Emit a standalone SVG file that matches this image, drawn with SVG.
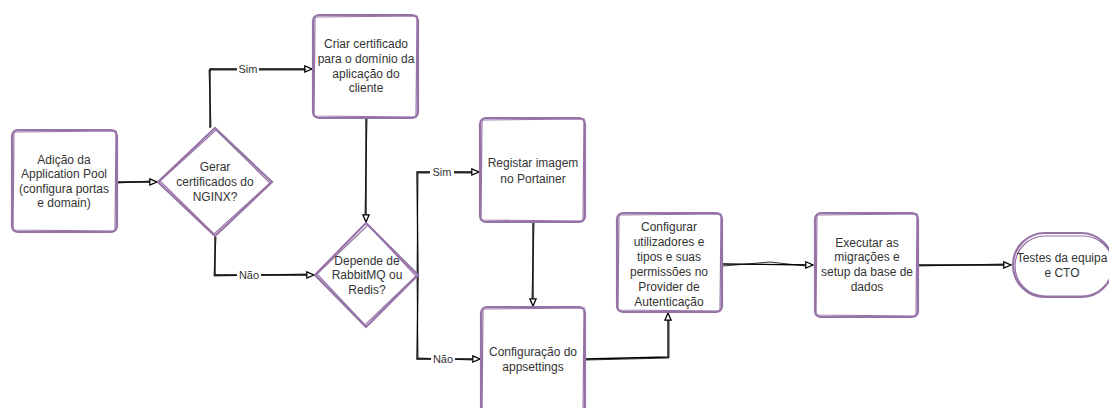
<svg xmlns="http://www.w3.org/2000/svg" width="1109" height="408" viewBox="0 0 1109 408">
<defs>
<marker id="arr" viewBox="0 0 10 10" refX="9" refY="5" markerWidth="9" markerHeight="9" markerUnits="userSpaceOnUse" orient="auto">
<path d="M1,1.5 L9,5 L1,8.5 Z" fill="#fff" stroke="#000" stroke-width="1.4"/>
</marker>
</defs>
<style>
.n{fill:#fff;stroke:#9673a6;stroke-width:2.2}
.n2{fill:none;stroke:#9673a6;stroke-width:1.2}
.t{font-family:"Liberation Sans",Arial,sans-serif;font-size:12px;fill:#333;text-anchor:middle}
.c{fill:none;stroke:#000;stroke-width:1.3}
.c2{fill:none;stroke:#000;stroke-width:0.8}
.lbl{font-family:"Liberation Sans",Arial,sans-serif;font-size:11px;fill:#333;text-anchor:middle}
.bg{fill:#fff}
</style>
<rect width="1109" height="408" fill="#fff"/>
<g id="connectors">
<path class="c" d="M117,182 L157,182" marker-end="url(#arr)"/>
<path class="c2" d="M118,183 L150,181"/>
<path class="c" d="M210,128 L210,69 L312,69" marker-end="url(#arr)"/>
<path class="c2" d="M211,127 L209,70 L306,70"/>
<rect class="bg" x="237" y="63" width="22" height="12"/>
<text class="lbl" x="248" y="73">Sim</text>
<path class="c" d="M215,236 L215,275 L314,275" marker-end="url(#arr)"/>
<path class="c2" d="M216,237 L214,276 L306,274"/>
<rect class="bg" x="237" y="269" width="24" height="12"/>
<text class="lbl" x="249" y="279">Não</text>
<path class="c" d="M366,118 L366,222" marker-end="url(#arr)"/>
<path class="c2" d="M367,119 L365,214"/>
<path class="c" d="M418,275 L417,172 L479,172" marker-end="url(#arr)"/>
<path class="c2" d="M417,276 L418,173 L472,173"/>
<path class="c" d="M418,275 L417,359 L480,359" marker-end="url(#arr)"/>
<path class="c2" d="M417,276 L418,358 L472,360"/>
<rect class="bg" x="430" y="166" width="24" height="12"/>
<text class="lbl" x="442" y="176">Sim</text>
<rect class="bg" x="431" y="353" width="24" height="12"/>
<text class="lbl" x="443" y="363">Não</text>
<path class="c" d="M533,222 L533,306" marker-end="url(#arr)"/>
<path class="c2" d="M534,223 L532,298"/>
<path class="c" d="M585,359 L668,357 L668,313" marker-end="url(#arr)"/>
<path class="c2" d="M586,360 L669,358 L669,320"/>
<path class="c" d="M722,264 L813,265" marker-end="url(#arr)"/>
<path class="c2" d="M723,266 L770,262 L806,266"/>
<path class="c" d="M918,265 L1011,265" marker-end="url(#arr)"/>
<path class="c2" d="M919,266 L1004,264"/>
</g>
<g id="n1">
<rect class="n" x="12" y="130" width="105" height="102" rx="6"/>
<path class="n2" d="M14,132 L116,131 L115,231 L13,230 Z"/>
<text class="t"><tspan x="64" y="164">Adição da</tspan><tspan x="64" y="178">Application Pool</tspan><tspan x="64" y="193">(configura portas</tspan><tspan x="64" y="207">e domain)</tspan></text>
</g>
<g id="n2">
<path class="n" d="M215,128 L272,182 L215,236 L158,182 Z"/>
<path class="n2" d="M216,130 L270,183 L214,234 L160,181 Z"/>
<text class="t"><tspan x="215" y="171">Gerar</tspan><tspan x="215" y="186">certificados do</tspan><tspan x="215" y="201">NGINX?</tspan></text>
</g>
<g id="n3">
<rect class="n" x="313" y="15" width="105" height="103" rx="6"/>
<path class="n2" d="M315,17 L417,16 L416,117 L314,116 Z"/>
<text class="t"><tspan x="366" y="48">Criar certificado</tspan><tspan x="366" y="63">para o domínio da</tspan><tspan x="366" y="78">aplicação do</tspan><tspan x="366" y="92">cliente</tspan></text>
</g>
<g id="n4">
<path class="n" d="M366,223 L418,275 L366,327 L315,275 Z"/>
<path class="n2" d="M368,225 L416,276 L365,325 L317,274 Z"/>
<text class="t"><tspan x="367" y="265">Depende de</tspan><tspan x="367" y="279">RabbitMQ ou</tspan><tspan x="367" y="294">Redis?</tspan></text>
</g>
<g id="n5">
<rect class="n" x="480" y="118" width="105" height="104" rx="6"/>
<path class="n2" d="M482,120 L584,119 L583,221 L481,220 Z"/>
<text class="t"><tspan x="533" y="167">Registar imagem</tspan><tspan x="533" y="183">no Portainer</tspan></text>
</g>
<g id="n6">
<rect class="n" x="481" y="307" width="104" height="110" rx="6"/>
<path class="n2" d="M483,309 L584,308 L583,416 L482,415 Z"/>
<text class="t"><tspan x="533" y="356">Configuração do</tspan><tspan x="533" y="371">appsettings</tspan></text>
</g>
<g id="n7">
<rect class="n" x="617" y="213" width="105" height="99" rx="6"/>
<path class="n2" d="M619,215 L721,214 L720,311 L618,310 Z"/>
<text class="t"><tspan x="669" y="231">Configurar</tspan><tspan x="669" y="246">utilizadores e</tspan><tspan x="669" y="261">tipos e suas</tspan><tspan x="669" y="276">permissões no</tspan><tspan x="669" y="291">Provider de</tspan><tspan x="669" y="306">Autenticação</tspan></text>
</g>
<g id="n8">
<rect class="n" x="815" y="213" width="103" height="104" rx="6"/>
<path class="n2" d="M817,215 L917,214 L916,316 L816,315 Z"/>
<text class="t"><tspan x="867" y="247">Executar as</tspan><tspan x="867" y="261">migrações e</tspan><tspan x="867" y="276">setup da base de</tspan><tspan x="867" y="291">dados</tspan></text>
</g>
<g id="n9">
<rect class="n" x="1013" y="233" width="100" height="64" rx="32"/>
<rect class="n2" x="1015" y="236" width="98" height="60" rx="30"/>
<text class="t"><tspan x="1062" y="262">Testes da equipa</tspan><tspan x="1062" y="277">e CTO</tspan></text>
</g>
</svg>
